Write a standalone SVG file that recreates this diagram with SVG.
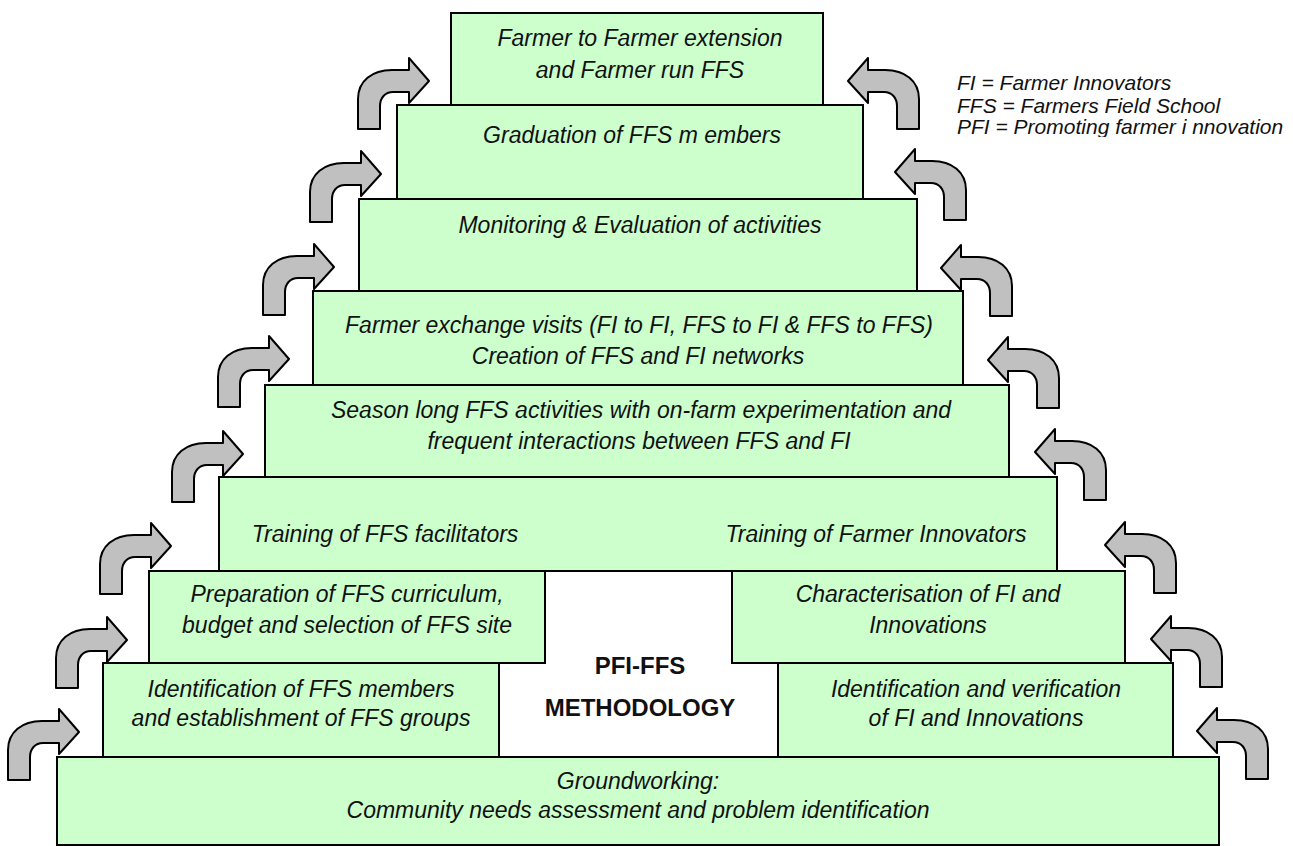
<svg xmlns="http://www.w3.org/2000/svg" width="1293" height="846" viewBox="0 0 1293 846">
  <style>
    .step { fill: #ccffcc; stroke: #000; stroke-width: 2; }
    .hole { fill: #ffffff; stroke: none; }
    .lbl { font-family: "Liberation Sans", Arial, sans-serif; font-style: italic; font-size: 23px; fill: #111; text-anchor: middle; }
    .core { font-family: "Liberation Sans", Arial, sans-serif; font-weight: bold; font-size: 24px; fill: #111; text-anchor: middle; }
    .key { font-family: "Liberation Sans", Arial, sans-serif; font-style: italic; font-size: 21px; fill: #111; }
    .arrow { fill: #c0c0c0; stroke: #000; stroke-width: 2; stroke-linejoin: round; }
  </style>
  <defs>
    <!-- bent block arrow: shaft bottom-left at origin, rising then turning right -->
    <path id="bent" d="M0,0 V-30 C0,-48 14,-59 34,-59 H51 V-71 L71,-48 L51,-26 V-37 H35 C27,-37 22,-31 22,-23 V0 Z"/>
    <clipPath id="keyClip">
      <rect x="940" y="60" width="353" height="77"/>
    </clipPath>
  </defs>

  <rect width="1293" height="846" fill="#ffffff"/>

  <!-- base step -->
  <g id="groundworking">
    <rect class="step" x="57" y="757" width="1162" height="88"/>
    <text class="lbl" x="638" y="789">Groundworking:</text>
    <text class="lbl" x="638" y="818">Community needs assessment and problem identification</text>
  </g>

  <g id="ffs-members">
    <rect class="step" x="103" y="663" width="396" height="94"/>
    <text class="lbl" x="301" y="697">Identification of FFS members</text>
    <text class="lbl" x="301" y="726">and establishment of FFS groups</text>
  </g>

  <g id="fi-verification">
    <rect class="step" x="778" y="663" width="395" height="94"/>
    <text class="lbl" x="976" y="697">Identification and verification</text>
    <text class="lbl" x="976" y="726">of FI and Innovations</text>
  </g>

  <g id="ffs-curriculum">
    <rect class="step" x="149" y="571" width="396" height="92"/>
    <text class="lbl" x="347" y="602">Preparation of FFS curriculum,</text>
    <text class="lbl" x="347" y="633">budget and selection of FFS site</text>
  </g>

  <g id="fi-characterisation">
    <rect class="step" x="732" y="571" width="393" height="92"/>
    <text class="lbl" x="928" y="602">Characterisation of FI and</text>
    <text class="lbl" x="928" y="633">Innovations</text>
  </g>

  <g id="methodology">
    <rect class="hole" x="546" y="572" width="185" height="90"/>
    <rect class="hole" x="500" y="664" width="277" height="92"/>
    <text class="core" x="640" y="674">PFI-FFS</text>
    <text class="core" x="640" y="716">METHODOLOGY</text>
  </g>

  <g id="training">
    <rect class="step" x="219" y="477" width="838" height="94"/>
    <text class="lbl" x="385" y="542">Training of FFS facilitators</text>
    <text class="lbl" x="876" y="542">Training of Farmer Innovators</text>
  </g>

  <g id="season-activities">
    <rect class="step" x="265" y="385" width="744" height="92"/>
    <text class="lbl" x="641" y="418">Season long FFS activities with on-farm experimentation and</text>
    <text class="lbl" x="639" y="449">frequent interactions between FFS and FI</text>
  </g>

  <g id="exchange-visits">
    <rect class="step" x="313" y="291" width="650" height="94"/>
    <text class="lbl" x="639" y="333">Farmer exchange visits (FI to FI, FFS to FI &amp; FFS to FFS)</text>
    <text class="lbl" x="638" y="364">Creation of FFS and FI networks</text>
  </g>

  <g id="monitoring">
    <rect class="step" x="359" y="199" width="558" height="92"/>
    <text class="lbl" x="640" y="233">Monitoring &amp; Evaluation of activities</text>
  </g>

  <g id="graduation">
    <rect class="step" x="397" y="105" width="466" height="94"/>
    <text class="lbl" x="632" y="143">Graduation of FFS m embers</text>
  </g>

  <g id="farmer-extension">
    <rect class="step" x="451" y="13" width="372" height="92"/>
    <text class="lbl" x="640" y="46">Farmer to Farmer extension</text>
    <text class="lbl" x="640" y="78">and Farmer run FFS</text>
  </g>

  <!-- climbing arrows on both flanks -->
  <g id="connectors">
    <use href="#bent" class="arrow" transform="translate(358,129)"/>
    <use href="#bent" class="arrow" transform="translate(310,222)"/>
    <use href="#bent" class="arrow" transform="translate(263,315)"/>
    <use href="#bent" class="arrow" transform="translate(218,407)"/>
    <use href="#bent" class="arrow" transform="translate(172,502)"/>
    <use href="#bent" class="arrow" transform="translate(100,594)"/>
    <use href="#bent" class="arrow" transform="translate(56,688)"/>
    <use href="#bent" class="arrow" transform="translate(8,780)"/>

    <use href="#bent" class="arrow" transform="translate(919,129) scale(-1,1)"/>
    <use href="#bent" class="arrow" transform="translate(966,220) scale(-1,1)"/>
    <use href="#bent" class="arrow" transform="translate(1012,316) scale(-1,1)"/>
    <use href="#bent" class="arrow" transform="translate(1059,408) scale(-1,1)"/>
    <use href="#bent" class="arrow" transform="translate(1106,500) scale(-1,1)"/>
    <use href="#bent" class="arrow" transform="translate(1176,593) scale(-1,1)"/>
    <use href="#bent" class="arrow" transform="translate(1222,687) scale(-1,1)"/>
    <use href="#bent" class="arrow" transform="translate(1268,779) scale(-1,1)"/>
  </g>

  <!-- abbreviations key -->
  <g id="legend" clip-path="url(#keyClip)">
    <text class="key" x="957" y="90">FI = Farmer Innovators</text>
    <text class="key" x="957" y="113">FFS = Farmers Field School</text>
    <text class="key" x="957" y="134">PFI = Promoting farmer i nnovation</text>
  </g>
</svg>
